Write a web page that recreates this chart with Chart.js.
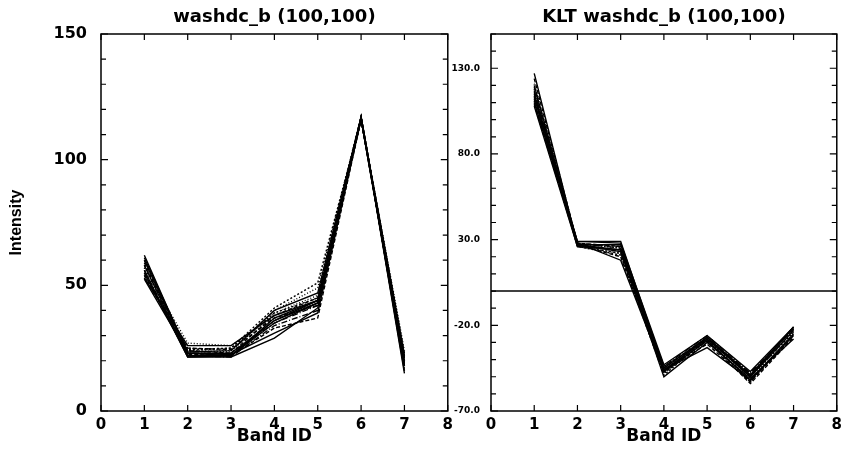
<!DOCTYPE html>
<html><head><meta charset="utf-8">
<script src="https://cdn.jsdelivr.net/npm/chart.js@4.4.1/dist/chart.umd.min.js"></script>
<style>
html,body{margin:0;padding:0;background:#fff;width:847px;height:455px;overflow:hidden}
#w1{position:absolute;left:0;top:0;width:458px;height:455px}
#w2{position:absolute;left:439px;top:0;width:408px;height:455px}
</style></head><body>
<div id="w1"><canvas id="c1"></canvas></div>
<div id="w2"><canvas id="c2"></canvas></div>
<script>
// ---- data ----
const bands = [1, 2, 3, 4, 5, 6, 7];
const xTickValues = [0, 1, 2, 3, 4, 5, 6, 7, 8];
const leftTitle = 'washdc_b (100,100)';
const rightTitle = 'KLT washdc_b (100,100)';
const xAxisTitle = 'Band ID';
const leftYAxisTitle = 'Intensity';
const leftYLabels = [0, 50, 100, 150];
const rightYLabels = [-70, -20, 30, 80, 130];
const zeroLineX = [0, 8];
const zeroLineY = [0, 0];

const leftSeries = [
  [62, 23, 22, 37, 44, 117, 15],
  [60, 24, 23, 38, 45, 116, 17],
  [58, 22, 22, 36, 43, 116, 19],
  [57, 25, 24, 39, 46, 117, 20],
  [56, 23, 23, 35, 42, 116, 18],
  [55, 21.5, 21.5, 29, 41, 117, 21],
  [54, 24, 25, 41, 51, 116, 22],
  [53, 26, 26, 38, 44, 117, 16],
  [59, 22.5, 22, 33, 37, 116, 23],
  [61, 23.5, 24, 40, 47, 117, 19],
  [57, 27, 26, 37, 43, 116, 24],
  [55, 22, 21.5, 34, 40, 117, 18],
  [52.5, 23, 23, 36, 44, 116, 20],
  [58, 24.5, 25, 39, 45, 117, 17],
  [56, 21.5, 22, 35, 43, 116, 21],
  [54, 25, 24.5, 37, 42, 117, 22],
  [60, 23, 22.5, 31, 39, 116, 18],
  [53, 24, 23.5, 40, 49, 117, 20]
];

const rightSeries = [
  [127, 27, 24, -47, -27, -50, -21],
  [124, 28, 26, -45, -27, -49, -22],
  [120, 27, 23, -46, -28, -50, -23],
  [118, 26, 22, -48, -29, -51, -24],
  [116, 28, 25, -44, -26, -48, -22],
  [114, 27, 27, -46, -33, -52, -26],
  [112, 26, 21, -49, -28, -53, -25],
  [110, 29, 29, -45, -27, -49, -21],
  [109, 27, 20, -47, -29, -54, -27],
  [108, 26, 24, -50, -30, -51, -28],
  [121, 28, 25, -46, -27, -50, -23],
  [117, 27, 26, -44, -28, -48, -22],
  [113, 28, 18, -47, -29, -52, -25],
  [111, 26, 22, -48, -28, -50, -24],
  [115, 29, 28, -43, -26, -47, -21],
  [119, 27, 23, -46, -31, -53, -26]
];

// ---- styles ----
const dashes = [[], [4, 2], [], [1, 2], [6, 2, 1, 2], [], [2, 2]];
const FONT = '"DejaVu Sans", "Liberation Sans", sans-serif';
const NARROW = '"Liberation Sans", Arial, sans-serif';

const framePlugin = {
  id: 'frame',
  afterDatasetsDraw(chart, args, opts) {
    const { ctx, chartArea: a } = chart;
    const x = chart.scales.x, y = chart.scales.y;
    ctx.save();
    ctx.strokeStyle = '#000';
    ctx.lineWidth = 1.5;
    ctx.strokeRect(a.left, a.top, a.right - a.left, a.bottom - a.top);
    ctx.lineWidth = 1.2;
    ctx.beginPath();
    xTickValues.forEach(v => {
      const px = x.getPixelForValue(v);
      ctx.moveTo(px, a.bottom); ctx.lineTo(px, a.bottom - 6);
      ctx.moveTo(px, a.top); ctx.lineTo(px, a.top + 6);
    });
    y.ticks.forEach(t => {
      const v = Math.round(t.value);
      const py = y.getPixelForValue(v);
      const len = opts.labels.includes(v) ? 7 : 5;
      ctx.moveTo(a.left, py); ctx.lineTo(a.left + len, py);
      ctx.moveTo(a.right, py); ctx.lineTo(a.right - len, py);
    });
    ctx.stroke();
    ctx.restore();
  }
};

function makeDatasets(series) {
  return series.map((s, i) => ({
    data: bands.map((b, j) => ({ x: b, y: s[j] })),
    borderColor: '#000',
    borderWidth: 1.4,
    borderDash: dashes[i % dashes.length],
    pointRadius: 0,
    tension: 0,
    fill: false
  }));
}

function makeChart(id, datasets, title, ymin, ymax, labels, fmt, yWidth, yFontSize, yPad, yTitle) {
  return new Chart(document.getElementById(id), {
    type: 'line',
    data: { datasets },
    plugins: [framePlugin],
    options: {
      responsive: true,
      maintainAspectRatio: false,
      animation: false,
      devicePixelRatio: 1,
      layout: { padding: 0 },
      plugins: {
        legend: { display: false },
        tooltip: { enabled: false },
        title: {
          display: true, text: title, fullSize: false, color: '#000',
          font: { family: FONT, weight: 'bold', size: 18, lineHeight: 1.2 },
          padding: { top: 7, bottom: 5.4 }
        },
        frame: { labels }
      },
      scales: {
        x: {
          type: 'linear', min: 0, max: 8,
          grid: { display: false, drawTicks: false },
          border: { display: false },
          ticks: { stepSize: 1, color: '#000', padding: 5, autoSkip: false, maxRotation: 0,
                   font: { family: FONT, weight: 'bold', size: 15 } },
          title: { display: true, text: xAxisTitle, color: '#000',
                   font: { family: FONT, weight: 'bold', size: 17, lineHeight: 1.2 },
                   padding: { top: 0, bottom: 8 } },
          afterFit(s) { s.height = 44; }
        },
        y: {
          type: 'linear', min: ymin, max: ymax,
          grid: { display: false, drawTicks: false },
          border: { display: false },
          ticks: { stepSize: 10, color: '#000', padding: yPad, autoSkip: false,
                   font: { family: FONT, weight: 'bold', size: yFontSize },
                   callback: v => { const r = Math.round(v); return labels.includes(r) ? fmt(r) : ''; } },
          title: { display: !!yTitle, text: yTitle || '', color: '#000',
                   font: { family: NARROW, weight: 'bold', size: 16, lineHeight: 1.2 },
                   padding: { top: 7, bottom: 0 } },
          afterFit(s) { s.width = yWidth; }
        }
      }
    }
  });
}

makeChart('c1', makeDatasets(leftSeries), leftTitle, 0, 150, leftYLabels,
  r => String(r), 101, 16, 14, leftYAxisTitle);

const rightSets = makeDatasets(rightSeries);
rightSets.push({
  data: zeroLineX.map((x, i) => ({ x, y: zeroLineY[i] })),
  borderColor: '#000', borderWidth: 1.5, pointRadius: 0, borderDash: []
});
makeChart('c2', rightSets, rightTitle, -70, 150, rightYLabels,
  r => r.toFixed(1), 52, 9, 11, null);
</script>
</body></html>
